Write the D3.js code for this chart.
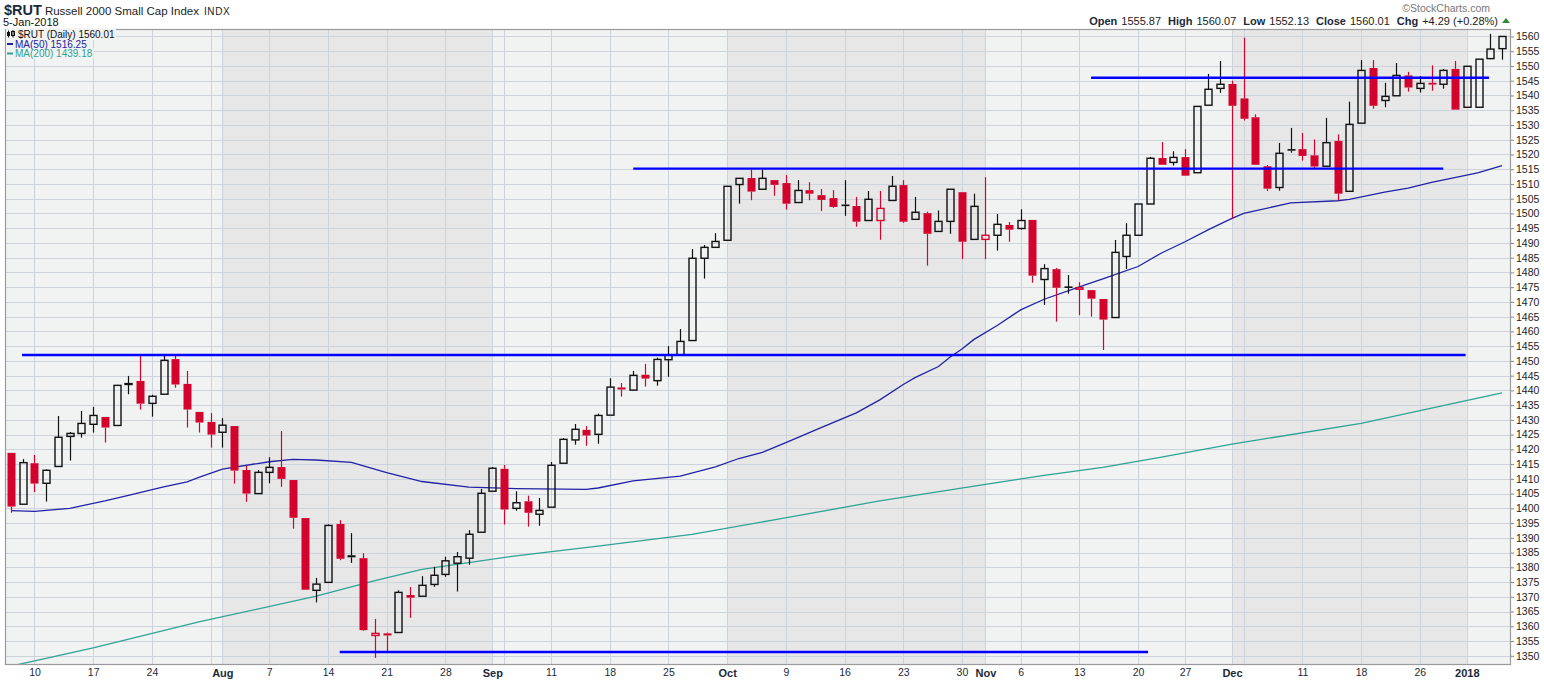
<!DOCTYPE html>
<html><head><meta charset="utf-8">
<script src="https://cdn.jsdelivr.net/npm/d3@7"></script>
<style>body{margin:0;background:#fff;} svg{display:block;font-family:"Liberation Sans",Arial,sans-serif;}</style>
</head><body><svg id="c" width="1544" height="681"></svg>
<script>
// ---------------- DATA ----------------
const dates = [
"2017-07-06","2017-07-07","2017-07-10","2017-07-11","2017-07-12","2017-07-13","2017-07-14","2017-07-17","2017-07-18","2017-07-19","2017-07-20","2017-07-21","2017-07-24","2017-07-25","2017-07-26","2017-07-27","2017-07-28","2017-07-31",
"2017-08-01","2017-08-02","2017-08-03","2017-08-04","2017-08-07","2017-08-08","2017-08-09","2017-08-10","2017-08-11","2017-08-14","2017-08-15","2017-08-16","2017-08-17","2017-08-18","2017-08-21","2017-08-22","2017-08-23","2017-08-24","2017-08-25","2017-08-28","2017-08-29","2017-08-30","2017-08-31",
"2017-09-01","2017-09-05","2017-09-06","2017-09-07","2017-09-08","2017-09-11","2017-09-12","2017-09-13","2017-09-14","2017-09-15","2017-09-18","2017-09-19","2017-09-20","2017-09-21","2017-09-22","2017-09-25","2017-09-26","2017-09-27","2017-09-28","2017-09-29",
"2017-10-02","2017-10-03","2017-10-04","2017-10-05","2017-10-06","2017-10-09","2017-10-10","2017-10-11","2017-10-12","2017-10-13","2017-10-16","2017-10-17","2017-10-18","2017-10-19","2017-10-20","2017-10-23","2017-10-24","2017-10-25","2017-10-26","2017-10-27","2017-10-30","2017-10-31",
"2017-11-01","2017-11-02","2017-11-03","2017-11-06","2017-11-07","2017-11-08","2017-11-09","2017-11-10","2017-11-13","2017-11-14","2017-11-15","2017-11-16","2017-11-17","2017-11-20","2017-11-21","2017-11-22","2017-11-24","2017-11-27","2017-11-28","2017-11-29","2017-11-30",
"2017-12-01","2017-12-04","2017-12-05","2017-12-06","2017-12-07","2017-12-08","2017-12-11","2017-12-12","2017-12-13","2017-12-14","2017-12-15","2017-12-18","2017-12-19","2017-12-20","2017-12-21","2017-12-22","2017-12-26","2017-12-27","2017-12-28","2017-12-29",
"2018-01-02","2018-01-03","2018-01-04","2018-01-05"];

const open = [
1418.8,1401.4,1415.3,1408.5,1414.2,1424.4,1425.4,1428.5,1431.0,1428.1,1442.0,1443.2,1435.6,1438.7,1450.6,1442.2,1432.7,1429.3,
1425.8,1427.9,1413.0,1405.0,1412.2,1414.0,1409.6,1396.7,1372.2,1374.9,1394.7,1384.1,1383.1,1356.9,1357.6,1357.9,1370.6,1370.2,1374.2,1377.6,1381.4,1383.1,1391.9,
1405.8,1413.4,1400.0,1402.4,1398.0,1400.4,1415.3,1423.2,1426.6,1425.1,1431.6,1441.0,1440.1,1445.3,1443.3,1450.4,1452.1,1456.9,1484.8,1488.5,
1490.9,1509.8,1512.0,1508.2,1511.3,1510.3,1503.7,1507.9,1506.2,1505.2,1503.0,1502.5,1497.6,1497.6,1504.4,1509.6,1498.0,1500.1,1493.9,1497.3,1507.2,1491.2,
1491.2,1492.6,1496.1,1494.9,1497.8,1477.6,1481.1,1475.1,1474.3,1474.0,1471.0,1464.7,1485.4,1492.6,1503.2,1518.8,1517.3,1519.1,1513.8,1536.7,1542.4,
1543.9,1539.0,1532.6,1516.0,1508.8,1521.8,1521.8,1519.7,1516.0,1524.6,1507.5,1530.6,1549.3,1538.3,1539.9,1546.8,1542.4,1544.3,1543.8,1549.0,
1536.0,1536.0,1552.5,1555.87];

const high = [
1418.8,1416.7,1418.1,1413.2,1431.3,1425.9,1433.0,1434.4,1431.0,1441.7,1444.9,1451.9,1438.5,1451.9,1451.9,1446.6,1432.7,1432.3,
1430.6,1427.9,1414.5,1413.0,1417.3,1426.2,1409.6,1396.7,1376.4,1394.6,1396.0,1391.6,1384.8,1362.5,1357.9,1372.2,1373.3,1377.0,1380.2,1383.6,1385.2,1392.6,1406.6,
1414.0,1414.7,1405.8,1404.3,1403.5,1415.7,1423.8,1428.6,1427.9,1432.1,1444.1,1442.5,1446.6,1449.0,1451.1,1455.0,1460.8,1487.9,1489.3,1493.3,
1509.2,1511.9,1514.9,1514.9,1511.3,1513.0,1511.3,1510.6,1508.3,1507.9,1511.3,1505.6,1507.6,1507.6,1512.7,1511.3,1505.6,1500.6,1501.0,1508.2,1507.2,1506.7,
1512.3,1499.8,1497.1,1501.4,1497.8,1482.8,1481.5,1479.1,1476.7,1474.0,1471.0,1491.0,1496.7,1503.2,1519.2,1524.2,1521.1,1521.8,1536.3,1547.3,1551.7,
1545.0,1559.6,1533.6,1516.4,1523.9,1529.0,1527.3,1525.1,1532.4,1526.8,1537.9,1552.0,1552.0,1544.3,1551.0,1548.0,1546.6,1550.2,1549.0,1551.7,
1549.9,1552.3,1560.9,1560.07];

const low = [
1398.5,1401.4,1405.5,1402.3,1414.2,1416.2,1424.0,1425.7,1422.3,1428.1,1438.7,1433.5,1431.1,1438.7,1440.9,1427.4,1425.7,1420.6,
1420.6,1408.4,1402.2,1405.0,1408.5,1407.3,1393.1,1372.4,1368.1,1374.9,1382.4,1381.5,1358.5,1349.3,1351.4,1357.9,1362.9,1370.2,1373.4,1376.8,1371.8,1380.9,1391.9,
1405.8,1394.5,1399.2,1393.8,1394.1,1400.4,1415.3,1421.6,1421.2,1421.9,1431.6,1437.9,1439.9,1441.3,1441.6,1444.6,1452.1,1456.9,1477.9,1488.5,
1490.9,1503.3,1504.5,1508.2,1506.0,1501.3,1503.7,1504.5,1500.8,1501.9,1499.2,1495.5,1497.6,1491.1,1504.4,1496.8,1498.0,1482.3,1493.9,1493.1,1484.5,1491.2,
1484.5,1487.4,1490.4,1494.5,1476.5,1469.0,1463.3,1472.8,1465.5,1465.0,1453.7,1464.7,1481.1,1492.6,1503.2,1516.5,1516.2,1512.8,1513.8,1536.7,1540.9,
1498.3,1531.5,1516.5,1507.6,1507.7,1520.6,1517.9,1515.4,1516.0,1504.4,1507.5,1530.6,1535.5,1536.0,1539.9,1541.3,1541.0,1541.6,1542.3,1535.2,
1536.0,1536.0,1552.3,1552.13];

const close = [
1400.6,1415.5,1408.4,1412.9,1424.1,1425.4,1428.8,1431.5,1427.4,1441.7,1442.3,1435.5,1438.0,1450.2,1442.0,1433.5,1429.1,1425.0,
1428.2,1412.8,1405.0,1412.2,1413.9,1410.0,1396.8,1372.4,1374.3,1394.2,1382.9,1383.4,1358.7,1357.6,1356.9,1371.5,1369.7,1373.9,1377.3,1382.2,1383.6,1391.2,1405.1,
1413.6,1399.6,1401.9,1398.5,1399.3,1414.6,1423.4,1426.8,1424.7,1431.5,1441.1,1440.3,1445.1,1444.0,1450.5,1451.9,1456.6,1484.8,1488.5,1490.5,
1509.2,1511.9,1507.4,1511.9,1509.7,1503.3,1507.8,1506.7,1504.6,1502.2,1502.5,1497.2,1504.8,1501.7,1509.2,1497.2,1500.4,1493.1,1497.3,1508.2,1490.4,1502.4,
1492.6,1496.3,1494.5,1497.6,1478.9,1481.3,1474.8,1474.9,1474.85,1471.1,1464.0,1486.8,1492.6,1503.2,1518.7,1516.5,1519.0,1512.8,1536.3,1542.1,1543.8,
1536.5,1532.1,1516.5,1508.4,1520.4,1521.3,1519.5,1515.9,1524.0,1506.7,1530.2,1548.5,1536.5,1539.7,1546.8,1542.7,1544.1,1543.7,1548.5,1535.2,
1549.9,1552.3,1555.72,1560.01];

// moving averages at these candle indexes
const ma50Idx = [0,2,5,8,10,13,15,16,18,21,22,24,26,29,32,35,39,43,49,50,53,57,60,62,64,66,69,72,74,76,77,79,80,81,82,84,86,88,91,93,96,98,100,102,104,105,109,113,114,117,119,121,124,125,127];
const ma50Val = [1399.2,1399.0,1400.0,1402.5,1404.4,1407.3,1409.0,1410.5,1413.3,1415.2,1415.8,1416.6,1416.4,1415.6,1412.1,1409.1,1407.2,1406.7,1406.4,1406.9,1409.3,1410.9,1414.1,1416.9,1419.0,1422.3,1427.4,1432.4,1436.8,1442.0,1444.3,1448.1,1451.3,1454.0,1457.2,1462.0,1467.3,1470.9,1475.1,1477.8,1482.0,1486.6,1490.4,1494.5,1498.3,1500.0,1503.6,1504.3,1504.8,1507.2,1508.6,1510.5,1513.0,1513.8,1516.25];
const ma200Idx = [0,7,16,26,31,35,43,50,58,65,74,83,88,93,98,104,115,121,127];
const ma200Val = [1346.5,1352.7,1361.5,1370.2,1375.5,1379.3,1383.9,1387.2,1391.2,1396.1,1402.5,1408.1,1411.2,1413.9,1417.4,1421.8,1428.8,1434.0,1439.18];

// y ticks
const yTicks = d3.range(1350, 1561, 5);
// x tick labels (candle index -> text), month starts in bold
const xTickIdx  = [2,7,12,18,22,27,32,37,41,46,51,56,61,66,71,76,81,83,86,91,96,100,104,110,115,120,124];
const xTickText = ["10","17","24","Aug","7","14","21","28","Sep","11","18","25","Oct","9","16","23","30","Nov","6","13","20","27","Dec","11","18","26","2018"];
const xTickMonth= [0,0,0,1,0,0,0,0,1,0,0,0,1,0,0,0,0,1,0,0,0,0,1,0,0,0,1];
// vertical grid lines: week starts and month starts
const gridIdx = [2,7,12,17,18,22,27,32,37,41,42,46,51,56,61,66,71,76,81,83,86,91,96,100,104,105,110,115,120,124];
// shaded months (start index, end index)
const shadeStart = [18,61,104];
const shadeEnd   = [41,83,124];
// drawn horizontal trend lines: level, from index, to index
const trendLevel = [1452.0,1515.2,1546.0,1351.3];
const trendFrom  = [0.94,53.0,92.0,28.0];
const trendTo    = [123.9,122.0,125.9,96.85];

// ---------------- CHART ----------------
const svg = d3.select("#c");
const L=5, R=1511, T=29, B=665;
const x = d3.scaleLinear().domain([0,127]).range([11,1502]);
const y = d3.scaleLinear().domain([1346.88,1562.54]).range([B,T]);
const RED="#d2042d", BLK="#111111", NAVY="#2222a6", TEAL="#2fa394", BLUE="#0000ff";

svg.append("defs").append("clipPath").attr("id","clip")
  .append("rect").attr("x",L).attr("y",T).attr("width",R-L).attr("height",B-T);

svg.append("rect").attr("x",L).attr("y",T).attr("width",R-L).attr("height",B-T).attr("fill","#f1f2f2");
svg.append("g").selectAll("rect").data(shadeStart).join("rect")
  .attr("x",(d)=>x(d)).attr("y",T).attr("width",(d,i)=>x(shadeEnd[i])-x(d)).attr("height",B-T).attr("fill","#e7e7e7");

const grid = svg.append("g").attr("stroke","#cdd3dd").attr("stroke-width",1);
grid.selectAll(".h").data(yTicks).join("line").attr("class","h")
  .attr("x1",L).attr("x2",R).attr("y1",d=>Math.round(y(d))+0.5).attr("y2",d=>Math.round(y(d))+0.5);
grid.selectAll(".v").data(gridIdx).join("line").attr("class","v")
  .attr("y1",T).attr("y2",B).attr("x1",d=>Math.round(x(d))+0.5).attr("x2",d=>Math.round(x(d))+0.5);

const plot = svg.append("g").attr("clip-path","url(#clip)");

// moving averages
const maLine = (idx,val)=> d3.line().x((d)=>x(d)).y((d,i)=>y(val[i]))(idx);
plot.append("path").attr("d",maLine(ma200Idx,ma200Val)).attr("fill","none").attr("stroke",TEAL).attr("stroke-width",1.3);
plot.append("path").attr("d",maLine(ma50Idx,ma50Val)).attr("fill","none").attr("stroke",NAVY).attr("stroke-width",1.3);

// candles
const cg = plot.append("g");
dates.forEach((dt,i)=>{
  const o=open[i], c=close[i], h=high[i], l=low[i];
  const prev = i===0 ? o : close[i-1];
  const col = c < prev ? RED : BLK;
  const filled = c < o;
  const cx = Math.round(x(i))+0.5;
  const top = y(Math.max(o,c)), bot = y(Math.min(o,c));
  if (y(h) < top) cg.append("line").attr("x1",cx).attr("x2",cx).attr("y1",y(h)).attr("y2",top).attr("stroke",col).attr("stroke-width",1.2);
  if (y(l) > bot) cg.append("line").attr("x1",cx).attr("x2",cx).attr("y1",bot).attr("y2",y(l)).attr("stroke",col).attr("stroke-width",1.2);
  if (filled) {
    const hgt = Math.max(bot-top,1.6);
    cg.append("rect").attr("x",cx-4).attr("width",8).attr("y",(top+bot)/2-hgt/2).attr("height",hgt).attr("fill",col);
  } else {
    cg.append("rect").attr("x",cx-3.5).attr("width",7).attr("y",top).attr("height",Math.max(bot-top,0.6))
      .attr("fill","none").attr("stroke",col).attr("stroke-width",1.4);
  }
});

// trend lines
plot.append("g").selectAll("line").data(trendLevel).join("line")
  .attr("x1",(d,i)=>x(trendFrom[i])).attr("x2",(d,i)=>x(trendTo[i]))
  .attr("y1",d=>y(d)).attr("y2",d=>y(d)).attr("stroke",BLUE).attr("stroke-width",2.4);

// border
svg.append("rect").attr("x",L+0.5).attr("y",T+0.5).attr("width",R-L-1).attr("height",B-T-1)
  .attr("fill","none").attr("stroke","#9a9a9a").attr("stroke-width",1.2);

// y axis
const gy = svg.append("g").attr("transform",`translate(${R},0)`)
  .call(d3.axisRight(y).tickValues(yTicks).tickSize(3).tickPadding(2).tickFormat(d3.format("d")));
gy.select(".domain").remove();
gy.selectAll("line").attr("stroke","#888");
gy.attr("font-family","'Liberation Sans',Arial,sans-serif").attr("font-size",10.5);
gy.selectAll("text").attr("fill","#222");

// x axis
const gx = svg.append("g").attr("transform",`translate(0,${B})`)
  .call(d3.axisBottom(x).tickValues(xTickIdx).tickFormat((d,i)=>xTickText[i]).tickSize(0).tickPadding(4));
gx.select(".domain").remove();
gx.attr("font-family","'Liberation Sans',Arial,sans-serif");
gx.selectAll("text").attr("fill","#1b2a3a")
  .attr("font-size",(d,i)=>xTickMonth[i]?11:10.5)
  .attr("font-weight",(d,i)=>xTickMonth[i]?"bold":"normal");

// legend
const lg = svg.append("g").attr("font-size",10);
function legendRow(txt, tx, by, color){
  const t = lg.append("text").attr("x",tx).attr("y",by).attr("fill",color).text(txt);
  const bb = t.node().getBBox();
  lg.insert("rect","text").attr("x",L+1).attr("y",bb.y).attr("width",bb.x+bb.width-L).attr("height",bb.height).attr("fill","#f1f2f2");
}
legendRow(`$RUT (Daily) ${close[127].toFixed(2)}`, 18, 38, "#111");
legendRow(`MA(50) ${ma50Val[ma50Val.length-1].toFixed(2)}`, 15, 47.5, NAVY);
legendRow(`MA(200) ${ma200Val[ma200Val.length-1].toFixed(2)}`, 15, 57, TEAL);
// small icons
lg.append("line").attr("x1",7).attr("x2",13).attr("y1",44).attr("y2",44).attr("stroke",NAVY).attr("stroke-width",2);
lg.append("line").attr("x1",7).attr("x2",13).attr("y1",53.5).attr("y2",53.5).attr("stroke",TEAL).attr("stroke-width",2);
lg.append("rect").attr("x",7).attr("y",32).attr("width",3).attr("height",4).attr("fill","#111");
lg.append("line").attr("x1",8.5).attr("x2",8.5).attr("y1",30.5).attr("y2",37.5).attr("stroke","#111");
lg.append("rect").attr("x",11.5).attr("y",31.5).attr("width",3).attr("height",4).attr("fill","none").attr("stroke","#111").attr("stroke-width",1);
lg.append("line").attr("x1",13).attr("x2",13).attr("y1",30).attr("y2",37.5).attr("stroke","#111");

// header
const hd = svg.append("g");
const ht = hd.append("text").attr("x",4).attr("y",15).attr("fill","#1b2a3a");
ht.append("tspan").attr("font-weight","bold").attr("font-size",14.5).text("$RUT");
ht.append("tspan").attr("font-size",11.5).attr("dx",3).attr("fill","#222").text("Russell 2000 Small Cap Index");
ht.append("tspan").attr("font-size",10).attr("dx",5).attr("letter-spacing",0.6).attr("fill","#222").text("INDX");
hd.append("text").attr("x",3).attr("y",25.5).attr("font-size",11).attr("fill","#111").text("5-Jan-2018");

hd.append("text").attr("x",1490).attr("y",12).attr("text-anchor","end").attr("font-size",10.5).attr("fill","#777").text("\u00A9StockCharts.com");
const chg = close[127]-close[126];
const pct = chg/close[126]*100;
const rt = hd.append("text").attr("x",1498).attr("y",25).attr("text-anchor","end").attr("font-size",11).attr("fill","#1b2a3a");
const parts = [["Open",open[127].toFixed(2)],["High",high[127].toFixed(2)],["Low",low[127].toFixed(2)],["Close",close[127].toFixed(2)],["Chg",`+${chg.toFixed(2)} (+${pct.toFixed(2)}%)`]];
parts.forEach((p,k)=>{
  rt.append("tspan").attr("font-weight","bold").attr("dx",k?7:0).text(p[0]);
  rt.append("tspan").attr("dx",4).attr("fill","#222").text(p[1]);
});
hd.append("path").attr("d","M1502,23 L1510,23 L1506,18 Z").attr("fill","#2e8b3a");
</script></body></html>
